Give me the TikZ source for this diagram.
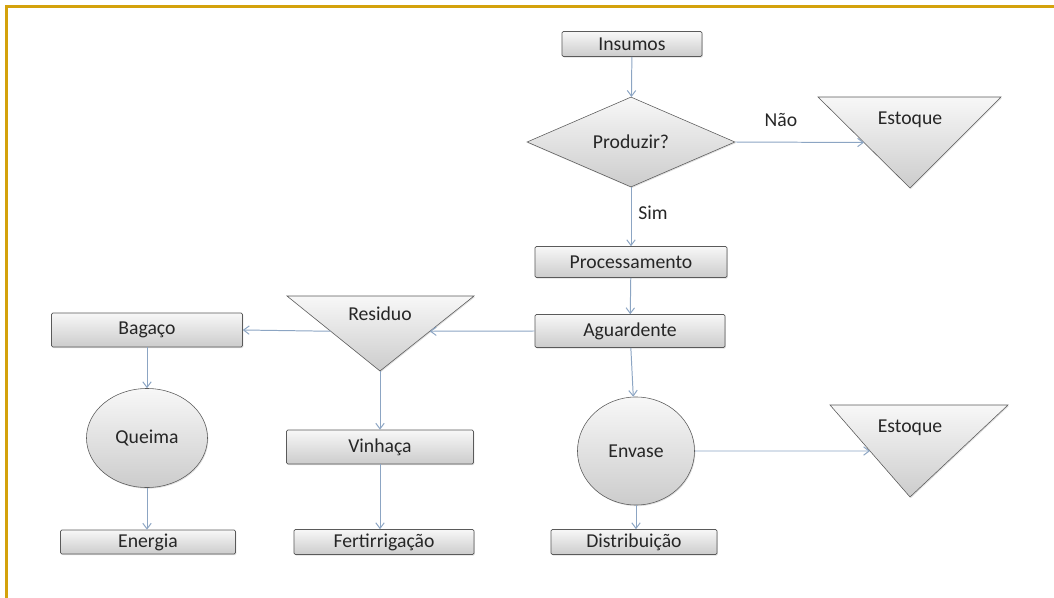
\documentclass[tikz,border=0pt]{standalone}
\usepackage{fontspec}
\setmainfont{Carlito}
\usetikzlibrary{arrows.meta,shapes.geometric,calc,shadows}
\definecolor{linha}{RGB}{140,165,195}
\definecolor{borda}{RGB}{90,90,90}
\definecolor{ouro}{RGB}{212,162,12}

\begin{document}
\begin{tikzpicture}[x=0.025cm,y=-0.025cm,>={Straight Barb[length=4pt,width=6pt]},font=\fontsize{14}{16}\selectfont]
\tikzstyle{sh}=[draw=borda,top color=gray!6,bottom color=gray!40,text=black!85,drop shadow={opacity=0.25,shadow xshift=0.6pt,shadow yshift=-0.8pt}]
\tikzstyle{b}=[sh,rectangle,rounded corners=1pt,inner sep=0pt]
\tikzstyle{seta}=[->,draw=linha,line width=0.7pt]
\useasboundingbox (0,0) rectangle (1054,598);
\draw[ouro,line width=1.5pt] (1054,6.5) -- (6.5,6.5) -- (6.5,598);

\node[b,minimum width=3.5cm,minimum height=0.625cm] (ins) at (632,44) {Insumos};
\node[sh,diamond,minimum width=5.2cm,minimum height=2.25cm,inner sep=0pt] (prod) at (631,142) {Produzir?};
\node[b,minimum width=4.8cm,minimum height=0.775cm] (proc) at (631,262) {Processamento};
\node[b,minimum width=4.75cm,minimum height=0.825cm] (ag) at (630,331) {Aguardente};
\node[b,minimum width=4.775cm,minimum height=0.85cm] (bag) at (147,330) {Bagaço};
\node[sh,ellipse,minimum width=3.025cm,minimum height=2.475cm,inner sep=0pt] (que) at (147,438) {Queima};
\node[b,minimum width=4.375cm,minimum height=0.6cm] (ene) at (148,542) {Energia};
\node[b,minimum width=4.675cm,minimum height=0.85cm] (vin) at (380,447) {Vinhaça};
\node[b,minimum width=4.5cm,minimum height=0.625cm] (fer) at (384,542) {Fertirrigação};
\node[sh,ellipse,minimum width=2.925cm,minimum height=2.7cm,inner sep=0pt] (env) at (636,451) {Envase};
\node[b,minimum width=4.15cm,minimum height=0.625cm] (dis) at (634,542) {Distribuição};

\path[sh] (818,97) coordinate (e1l) -- (1001,97) -- (910,188) coordinate (e1a) -- cycle;
\path[sh] (830,405) coordinate (e2l) -- (1008,405) -- (910,497) coordinate (e2a) -- cycle;
\path[sh] (287,296) coordinate (rl) -- (474,296) coordinate (rr) -- (380,371) coordinate (ra) -- cycle;
\node[text=black!85] (est1) at (910,120) {Estoque};
\node[text=black!85] (est2) at (910,428) {Estoque};
\node[text=black!85] (res) at (380,314) {Residuo};

\node[text=black!85] (nao) at (781,120) {Não};
\node[text=black!85] (sim) at (653,213) {Sim};

\draw[seta] (ins) -- (prod);
\draw[seta] (prod.east) -- ($(e1l)!0.5!(e1a)$);
\draw[seta] (prod) -- (proc);
\draw[seta] (proc) -- (ag);
\draw[seta] (ag.west) -- ($(rr)!0.47!(ra)$);
\draw[seta] ($(rl)!0.47!(ra)$) -- (bag.east);
\draw[seta] (ra) -- (vin.north);
\draw[seta] (bag) -- (que);
\draw[seta] (que.south) -- (que.south |- ene.north);
\draw[seta] (vin.south) -- (vin.south |- fer.north);
\draw[seta] (ag) -- (env);
\draw[seta] (env.south) -- (env.south |- dis.north);
\draw[seta] (env.east) -- ($(e2l)!0.5!(e2a)$);
\end{tikzpicture}
\end{document}
